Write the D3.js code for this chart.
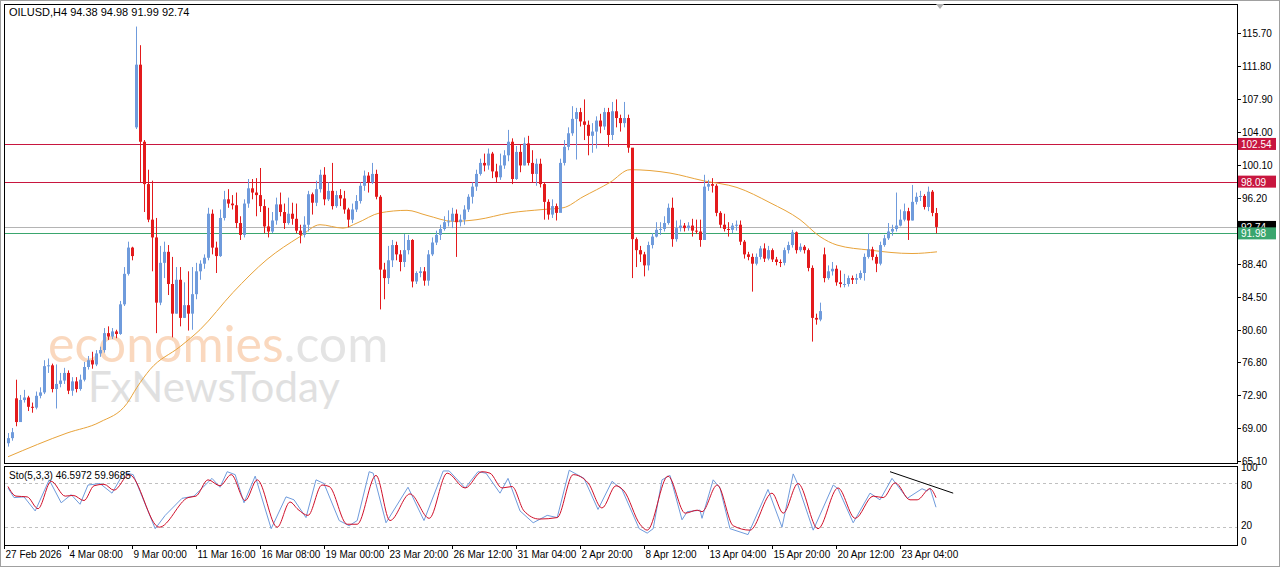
<!DOCTYPE html>
<html><head><meta charset="utf-8">
<script src="https://cdn.jsdelivr.net/npm/d3@7"></script>
<style>body{margin:0;background:#fff;overflow:hidden}svg text{font-family:"Liberation Sans",Arial,sans-serif;font-size:10px}</style>
</head><body><svg id="c" width="1280" height="567"></svg>
<script>
const closes=[67.8,68.5,69.7,72.3,72.6,71.5,71.4,72.8,73.2,76.3,76.4,73.6,74.2,74.6,75.5,73.4,
74.5,73.6,74.7,76.2,77,76.5,77.8,78.2,80.2,79.8,80.4,80.1,83.6,87.2,90.3,89.3,
111.9,102.8,97.8,93.6,91.5,83.8,88.5,89.8,86,82.5,86.5,82,83.5,82.5,84.8,87.5,
88.4,89.1,94.3,90.3,89.3,93.8,96,95.5,95.3,93.2,91.8,95.5,97.3,96.8,96.5,95.2,
92.8,92.2,93.5,95.4,94.5,93.2,94.3,93.7,92.3,91.8,93,96.6,95.6,97.2,98.9,96,
97,95.2,96.5,96.1,94.8,93.6,94.8,95.8,97.6,98.8,98,99,96.3,87.7,86.7,88.8,
90.6,89.5,88.6,90,91.2,86.3,87.3,87.5,86.4,89.5,90.9,91.8,92.5,93.3,93.4,94.3,
93.3,93.6,94.8,96.3,97.5,99,100.3,100,101.4,99.3,98.6,100,101.2,102.8,98.4,101.6,
100,102.6,100.3,99,100.2,97.8,95.7,94.2,95.2,94.4,100.3,102.2,103.8,105.5,106.3,105.2,
104.8,103.5,104,105.3,104.6,106.3,103.6,106.4,105.6,105,105.6,102.1,91.3,90,89.5,88.2,
90.6,91.6,92.4,92.5,93.2,95,91.3,92.6,92.9,92.6,92.9,92.3,92.2,91.2,97.5,97.8,
97.6,94.4,93,92.5,92.4,92.9,93,91,89.5,89.2,88.4,89.2,90.2,89,90,88.9,
88.6,88.5,90,90.6,92.1,90,90.4,90,87.9,82,81.8,82.8,86.7,87.5,87.8,86.2,
86,86,86.7,86.5,86.7,87.3,89.2,90.1,89.2,88.4,90.6,91.4,92.2,92.5,92.9,93.6,
94.6,93.5,95.7,96.3,96.4,95.1,96.9,94.4,92.74];
const highs=[68.4,69,74.7,72.9,73.5,72.8,72,73.3,73.8,77,77.2,76.6,76.5,75.5,76.1,75.8,
75,75,75.3,76.8,77.5,78,78.2,78.6,80.8,81,80.8,80.6,84,88,91,90.4,
116.4,114.2,103,99.5,98.2,93.8,90.5,91,90.6,89.2,88,88,86.2,87.5,88,88.5,
88.8,89.5,95,94.8,91,94.8,97,97.2,96.5,96.8,94,96,98.4,98.4,98.5,99.7,
96,95,94.5,96.2,96.8,95.5,96.2,95.6,95.5,93,94,97,96.8,98.2,99.5,99.8,
98,100.3,97,97.2,97,95,95.5,96.5,98,99.4,99.2,100.3,99.5,96.5,88.5,90.5,
91.2,91,90,91.9,91.8,91.3,87.5,88,88,90,91.5,92.3,93,94,94.7,95,
94.8,94.2,95.3,96.6,98,99.5,100.8,101.4,102,101.6,100.2,101.4,101.8,104.2,103.2,102.3,
102.5,103.3,103.5,101.8,100.8,100.8,98,96,96,95.5,100.8,103,104.5,107,106.8,106.8,
107.8,105.3,105,105.8,106.1,106.8,106.8,107.5,107.8,106,107.5,106,101.5,91.5,90.5,89.8,
91,92,93.3,93.3,94,95.5,96.2,93.5,93.6,93.2,93.3,93.7,93.6,93.6,98.9,98.3,
98.5,97.8,94.6,94.3,93.3,93.2,93.5,93.5,91.2,89.8,89.6,89.6,90.5,90.8,90.5,90.2,
89.2,88.9,90.3,91,92.4,92.2,90.8,90.6,90.2,88.2,82.5,83.8,90.3,88.2,88.6,88.2,
87.6,87.2,87,87,87.2,87.6,89.6,92,90.4,89.5,91,91.8,93.2,93,96.8,94.8,
95.5,95,97.7,96.8,97,96.6,97.5,97.1,94.98];
const lows=[66.8,67.5,69.2,69.8,72,71,70.8,71.2,72.5,73,75.5,73.2,71.3,73.8,74.2,73,
72.8,73.2,73.4,74.5,75.9,76,76.3,77.4,77.9,79.4,79.5,79.6,80,83.4,87,88.8,
104.3,98,94.5,93.3,87.5,80.2,83.5,86.7,84.7,79.7,82.5,81,82,80.5,80.6,84.2,
86.5,87.8,88.8,89.5,87.3,89.2,93.5,95,94.8,92.6,91.2,91.5,95,96,94,94.5,
92,91.5,92,93,94,92.5,93,93,92,90.8,91.5,92.2,94.2,95.2,96.8,95.3,
95.8,94.8,95,95.2,94.3,92.7,93.2,94.5,95.5,97,96.8,97.8,96,83,84.2,86,
88,88.8,87.5,88,89.5,85.6,86,86.8,85.8,85.8,89.3,90.6,91.2,92.3,92.8,92.6,
89.2,92.8,93,94.5,95.5,97,98.8,99.3,99.5,98.5,98,98.3,99.6,100.5,97.8,98.3,
99.2,100,100,98,97.6,97.4,93.6,93.6,93.8,93.5,95,100,101.8,103.5,100.7,104.6,
103,101.2,101.5,102,103.8,104.2,102.2,103,104.5,104,104.5,101.5,86.7,88,88.6,86.9,
87.6,90.2,91.5,91.8,92.2,93,90.4,91,92.2,92.2,92.3,91.6,91.9,90.4,91.8,97,
96.8,94,92.6,92.2,91.6,92,92.3,90.6,89,88.8,85.1,88.2,88.9,88.6,88.8,88.6,
88.2,88,88.2,89.6,90.3,89.6,89.8,89.6,87.5,79.2,81.2,81.6,86.2,86.5,87,85.8,
85.6,85.6,85.7,86,86,86.5,86.4,89,88.8,87.4,88.2,90.4,91.2,91.7,92.2,92.8,
93.4,91.2,93.5,95.4,95.8,94.8,94.6,94,91.99];
const gapOpens={0:67.2,2:72.5,32:104.5,204:89.5,232:94.38};
const maPts=[[0,65.6],[14.75,68.4],[23,69.7],[29.75,71.9],[32.25,73.8],[35.5,75.9],[43,78.6],[48,80.6],[56.25,85],[64.75,88.9],[73,91.6],[78,93],[83.75,92.6],[87.25,93.2],[93,94.4],[99.75,94.7],[104.75,94.1],[111.25,93.4],[117.25,93.6],[125.5,94.4],[133.75,94.8],[138.75,95],[143.75,96.3],[150.5,98],[155.5,99.5],[165.5,99.1],[173.75,98.2],[182.25,97.4],[190.5,95.6],[198,93.6],[203,91.6],[207.25,90.6],[215.5,90],[226,89.6],[232.25,89.8]];
const stoK=[[0,73],[1.5,60],[4,61],[6.8,42],[10.3,84],[13.3,53],[15.8,64],[18,51],[20,77],[23,79],[26,66],[29,94],[31.3,91],[36.8,18],[39.3,36],[43.5,59],[46.5,62],[51,86],[53,74],[54.8,95],[56.8,91],[59,53],[61.8,89],[65.8,18],[69.5,61],[71.5,57],[74.5,33],[77,84],[79,79],[82.8,29],[85.3,22],[87.3,29],[90.3,95],[91.3,93],[94.5,26],[100,74],[104,29],[108.8,96],[110.3,96],[114.3,73],[117.5,95],[119.5,93],[123,66],[125,86],[128,42],[131.3,26],[134.8,36],[137.3,33],[140.3,97],[144,86],[147.5,44],[151,82],[153.5,71],[157.8,18],[159.8,12],[161.3,18],[163.5,84],[165.5,90],[168.5,30],[169.8,41],[173,43],[173.5,32],[176.3,84],[178,73],[180.5,18],[185,10],[190,71],[193.5,20],[196.3,92],[197.3,80],[201.3,16],[206.3,77],[207.5,72],[211.3,26],[215.5,66],[218,57],[221,86],[224.8,59],[228.5,72],[229.8,69],[230.5,73],[232,47]];
const stoD=[[0,75],[2,62],[4.8,61],[7.5,45],[10.8,82],[14.3,62],[16.3,63],[19,56],[21.5,76],[24,78],[26.5,70],[30.3,91],[37.8,20],[45,60],[47,62],[50,84],[53,76],[55.8,91],[59.3,56],[62.3,84],[67.3,20],[70.5,54],[72.5,44],[75,36],[78.5,77],[80.3,75],[84.8,24],[87.3,24],[92,90],[95.5,29],[100.5,65],[105.3,32],[109.8,93],[114.3,73],[118.5,95],[120.5,93],[123.5,73],[126,75],[129,42],[132.8,31],[137.3,33],[141.3,91],[145,80],[148.5,46],[152,76],[154,69],[158,24],[159.8,16],[165,89],[169.3,39],[172.3,43],[173.5,41],[177.3,77],[181.3,22],[185.5,16],[191,66],[193.8,39],[197.5,79],[202.5,18],[207.5,73],[211.8,32],[216.3,62],[218.8,60],[221.8,80],[225.5,57],[227.3,57],[230.5,72],[232,60]];
const stoTrend=[[220.5,95],[236.3,66]];
const priceTicks=[115.70,111.80,107.90,104.00,100.10,96.20,88.40,84.50,80.60,76.80,72.90,69.00,65.10];
const dateLabels=["27 Feb 2026","4 Mar 08:00","9 Mar 00:00","11 Mar 16:00","16 Mar 08:00","19 Mar 00:00","23 Mar 20:00","26 Mar 12:00","31 Mar 04:00","2 Apr 20:00","8 Apr 12:00","13 Apr 04:00","15 Apr 20:00","20 Apr 12:00","23 Apr 04:00"];
const levels=[{v:102.54,c:"#c8163f"},{v:98.09,c:"#c8163f"},{v:91.98,c:"#3aa66e"}];
const lastPrice=92.74;

const svg=d3.select("#c");
const L=4,R=1237,T=4,B=463,ST=466,SB=545;
const x=d3.scaleLinear().domain([0,232]).range([8,936]);
const y=d3.scaleLinear().domain([65.1,115.7]).range([461,32.5]);
const ys=d3.scaleLinear().domain([0,100]).range([542,468]);
const up="#6f9bdc",dn="#e31a1c";
svg.append("rect").attr("x",0.5).attr("y",0.5).attr("width",1279).attr("height",566).attr("fill","none").attr("stroke","#a0a0a0");
svg.append("rect").attr("x",L+.5).attr("y",T+.5).attr("width",R-L).attr("height",B-T).attr("fill","#fff").attr("stroke","#000");
svg.append("rect").attr("x",L+.5).attr("y",ST+.5).attr("width",R-L).attr("height",SB-ST).attr("fill","#fff").attr("stroke","#000");
const wm=svg.append("g").attr("opacity",0.55);
wm.append("text").attr("x",48).attr("y",362).style("font-size","50px").style("font-family","Lato, 'Open Sans', sans-serif").attr("fill","#f6b98a").text("economies").append("tspan").attr("fill","#cfcfcf").text(".com");
wm.append("text").attr("x",88).attr("y",402).style("font-size","42px").style("font-family","Lato, 'Open Sans', sans-serif").attr("fill","#c8c8c8").text("FxNewsToday");
svg.append("line").attr("x1",L+1).attr("x2",R).attr("y1",Math.round(y(lastPrice))+.5).attr("y2",Math.round(y(lastPrice))+.5).attr("stroke","#b4b4b4");
levels.forEach(l=>{svg.append("line").attr("x1",L+1).attr("x2",R).attr("y1",Math.round(y(l.v))+.5).attr("y2",Math.round(y(l.v))+.5).attr("stroke",l.c).attr("stroke-width",1);});
svg.append("path").datum(maPts).attr("fill","none").attr("stroke","#e8a33a").attr("stroke-width",1)
 .attr("d",d3.line().x(d=>x(d[0])).y(d=>y(d[1])).curve(d3.curveMonotoneX));
const data=closes.map((c,i)=>({i,c,h:highs[i],l:lows[i],o:(gapOpens[i]!==undefined?gapOpens[i]:closes[i-1])}));
const g=svg.append("g");
data.forEach(d=>{const col=d.c>=d.o?up:dn;const cx=Math.round(x(d.i))+.5;
 g.append("line").attr("x1",cx).attr("x2",cx).attr("y1",y(d.h)).attr("y2",y(d.l)).attr("stroke",col);
 const t=y(Math.max(d.o,d.c)),b=y(Math.min(d.o,d.c));
 g.append("rect").attr("x",cx-1.5).attr("y",t).attr("width",3).attr("height",Math.max(1,b-t)).attr("fill",col);});
svg.append("text").attr("x",9).attr("y",16).style("font-size","11px").text("OILUSD,H4  94.38 94.98 91.99 92.74");
priceTicks.forEach(p=>{const yy=Math.round(y(p))+.5;svg.append("line").attr("x1",R).attr("x2",R+4).attr("y1",yy).attr("y2",yy).attr("stroke","#000");
 svg.append("text").attr("x",R+5).attr("y",yy+3.5).text(p.toFixed(2));});
[{v:lastPrice,c:"#000"}].concat(levels).forEach(l=>{const yy=y(l.v);
 svg.append("rect").attr("x",R+1).attr("y",yy-6).attr("width",38).attr("height",12).attr("fill",l.c);
 svg.append("text").attr("x",R+4).attr("y",yy+4).attr("fill","#fff").text(l.v.toFixed(2));});
[80,20].forEach(v=>svg.append("line").attr("x1",L+1).attr("x2",R).attr("y1",Math.round(ys(v))+.5).attr("y2",Math.round(ys(v))+.5).attr("stroke","#c0c0c0").attr("stroke-dasharray","3,3"));
const sl=d3.line().x(d=>x(d[0])).y(d=>ys(d[1]));
svg.append("path").datum(stoK).attr("fill","none").attr("stroke","#6f9bdc").attr("d",sl);
svg.append("path").datum(stoD).attr("fill","none").attr("stroke","#d0102a").attr("d",sl.curve(d3.curveMonotoneX));
svg.append("path").datum(stoTrend).attr("fill","none").attr("stroke","#000").attr("d",d3.line().x(d=>x(d[0])).y(d=>ys(d[1])));
svg.append("text").attr("x",9).attr("y",479).text("Sto(5,3,3) 46.5972 59.9685");
[[100,-1],[80,2],[20,-2],[0,-1]].forEach(([v,o])=>svg.append("text").attr("x",R+4).attr("y",ys(v)+4+o).text(v));
dateLabels.forEach((t,k)=>{const xx=Math.round(x(k*16))-3.5;
 svg.append("line").attr("x1",xx).attr("x2",xx).attr("y1",SB).attr("y2",SB+4).attr("stroke","#000");
 svg.append("text").attr("x",xx+1).attr("y",558).text(t);});
svg.append("path").attr("d","M936,4 L944,4 L940,9 Z").attr("fill","#b0b0b0");
</script></body></html>
